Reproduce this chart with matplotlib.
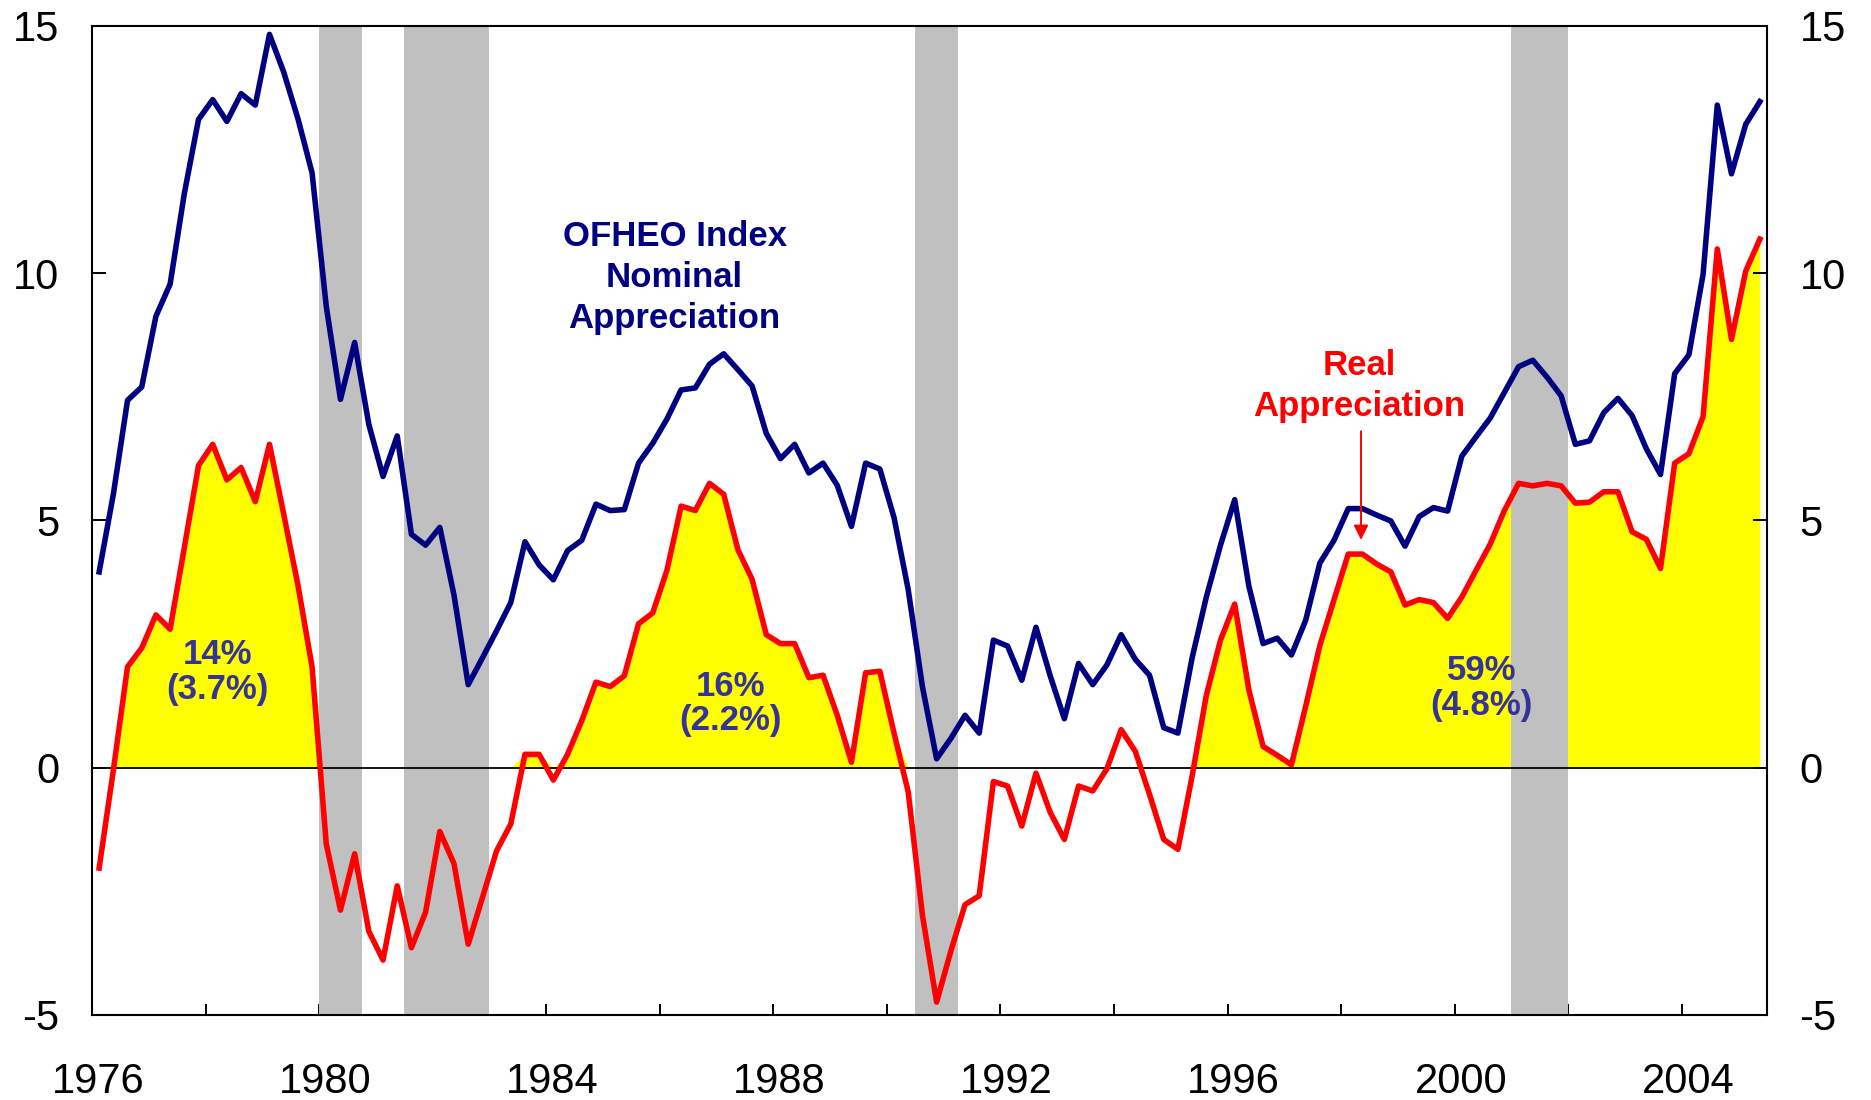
import numpy as np
import matplotlib
matplotlib.use("Agg")
import matplotlib.pyplot as plt
from matplotlib.transforms import ScaledTranslation

# quarterly data, 1976Q1 - 2005Q2 (year-over-year % change)
start_year = 1976
n_quarters = 118
nominal = [3.96, 5.53, 7.43, 7.70, 9.13, 9.78, 11.61, 13.11, 13.51, 13.07,
           13.63, 13.40, 14.83, 14.07, 13.13, 12.03, 9.33, 7.45, 8.60, 6.94,
           5.89, 6.71, 4.72, 4.50, 4.86, 3.49, 1.68, 2.22, 2.77, 3.34,
           4.57, 4.10, 3.80, 4.39, 4.60, 5.33, 5.20, 5.22, 6.16, 6.56,
           7.05, 7.64, 7.68, 8.16, 8.37, 8.05, 7.72, 6.76, 6.25, 6.54,
           5.96, 6.16, 5.71, 4.88, 6.16, 6.04, 5.06, 3.60, 1.64, 0.18,
           0.59, 1.06, 0.70, 2.58, 2.46, 1.77, 2.84, 1.86, 0.99, 2.11,
           1.68, 2.08, 2.69, 2.19, 1.87, 0.81, 0.70, 2.22, 3.45, 4.50,
           5.42, 3.67, 2.51, 2.62, 2.28, 2.98, 4.14, 4.60, 5.24, 5.24,
           5.11, 4.99, 4.48, 5.08, 5.26, 5.19, 6.30, 6.69, 7.07, 7.59,
           8.11, 8.24, 7.90, 7.52, 6.54, 6.61, 7.18, 7.47, 7.12, 6.45,
           5.93, 7.97, 8.35, 9.98, 13.40, 12.01, 13.01, 13.47]
real = [-2.03, -0.05, 2.04, 2.42, 3.09, 2.80, 4.45, 6.11, 6.54, 5.82,
        6.07, 5.38, 6.54, 5.13, 3.70, 2.04, -1.54, -2.88, -1.74, -3.31,
        -3.89, -2.39, -3.64, -2.92, -1.29, -1.94, -3.57, -2.63, -1.68, -1.14,
        0.27, 0.27, -0.25, 0.27, 0.95, 1.73, 1.64, 1.86, 2.91, 3.13,
        3.99, 5.29, 5.20, 5.75, 5.53, 4.41, 3.81, 2.69, 2.51, 2.51,
        1.82, 1.87, 1.06, 0.11, 1.92, 1.95, 0.70, -0.49, -2.98, -4.74,
        -3.71, -2.77, -2.59, -0.28, -0.37, -1.18, -0.11, -0.90, -1.45, -0.37,
        -0.47, -0.02, 0.77, 0.33, -0.54, -1.45, -1.65, -0.17, 1.46, 2.58,
        3.31, 1.57, 0.43, 0.25, 0.06, 1.24, 2.47, 3.40, 4.32, 4.32,
        4.12, 3.96, 3.29, 3.40, 3.34, 3.02, 3.45, 3.99, 4.52, 5.20,
        5.75, 5.70, 5.75, 5.70, 5.35, 5.37, 5.58, 5.58, 4.77, 4.62,
        4.03, 6.16, 6.35, 7.10, 10.49, 8.66, 10.04, 10.69]

# recessions (shaded) and real-gain periods (yellow)
recession_start = [1980.0, 1981.5, 1990.5, 2001.0]
recession_end = [1980.75, 1983.0, 1991.25, 2002.0]
gain_start = [1976.0, 1983.3, 1995.3]
gain_end = [1980.2, 1990.4, 2005.5]
gain_labels = ["14%\n(3.7%)", "16%\n(2.2%)", "59%\n(4.8%)"]
gain_label_x = [1978.21, 1987.24, 2000.47]
gain_label_y = [1.94, 1.30, 1.61]

dates = start_year + 0.125 + 0.25 * np.arange(n_quarters)
nominal = np.array(nominal)
real = np.array(real)

plt.rcParams["font.family"] = ["Liberation Sans", "DejaVu Sans"]
plt.rcParams["axes.unicode_minus"] = False

fig = plt.figure(figsize=(18.71, 11), dpi=100)
ax = fig.add_axes([0.0492, 0.0773, 0.8952, 0.8991])

# yellow area: positive real appreciation during expansion periods
for s, e in zip(gain_start, gain_end):
    mask = (dates >= s) & (dates <= e)
    area = np.clip(real[mask], 0, None)
    ax.fill_between(dates[mask], 0, area, color="#FFFF00", lw=0, zorder=1)

for s, e in zip(recession_start, recession_end):
    ax.axvspan(s, e, color="#C0C0C0", lw=0, zorder=2)

ax.axhline(0, color="black", lw=1.3, zorder=3)
ax.plot(dates, nominal, color="#000080", lw=4.0, zorder=4)
ax.plot(dates, real, color="#FF0000", lw=4.0, zorder=5)

for t, x, y in zip(gain_labels, gain_label_x, gain_label_y):
    ax.text(x, y, t, color="#333399", fontsize=25, fontweight="bold",
            ha="center", va="center", linespacing=1.06, zorder=6)

ax.text(1986.26, 9.91, "OFHEO Index\nNominal\nAppreciation", color="#000080",
        fontsize=25, fontweight="bold", ha="center", va="center",
        linespacing=1.3, zorder=6)
ax.text(1998.32, 7.72, "Real\nAppreciation", color="#FF0000", fontsize=25,
        fontweight="bold", ha="center", va="center", linespacing=1.3, zorder=6)
ax.annotate("", xy=(1998.35, 4.55), xytext=(1998.35, 6.86),
            arrowprops=dict(arrowstyle="-|>", color="#FF0000", lw=1.4,
                            mutation_scale=22), zorder=6)

ax.set_xlim(1976, 2005.5)
ax.set_ylim(-5, 15)
ax.set_yticks([-5, 0, 5, 10, 15])
xt = np.arange(1976, 2005, 2)
ax.set_xticks(xt)
ax.set_xticklabels([str(y) if y % 4 == 0 else "" for y in xt])

ax.tick_params(axis="x", direction="in", length=8, width=1.4, labelsize=30, pad=34)
ax.tick_params(axis="y", direction="in", length=10, width=1.4, labelsize=30, pad=23.5,
               left=True, right=True, labelleft=True, labelright=True)
for sp in ax.spines.values():
    sp.set_linewidth(1.5)

shift = ScaledTranslation(6 / 100, 0, fig.dpi_scale_trans)
for lab in ax.get_xticklabels():
    lab.set_transform(lab.get_transform() + shift)

fig.savefig("out.png", dpi=100)
